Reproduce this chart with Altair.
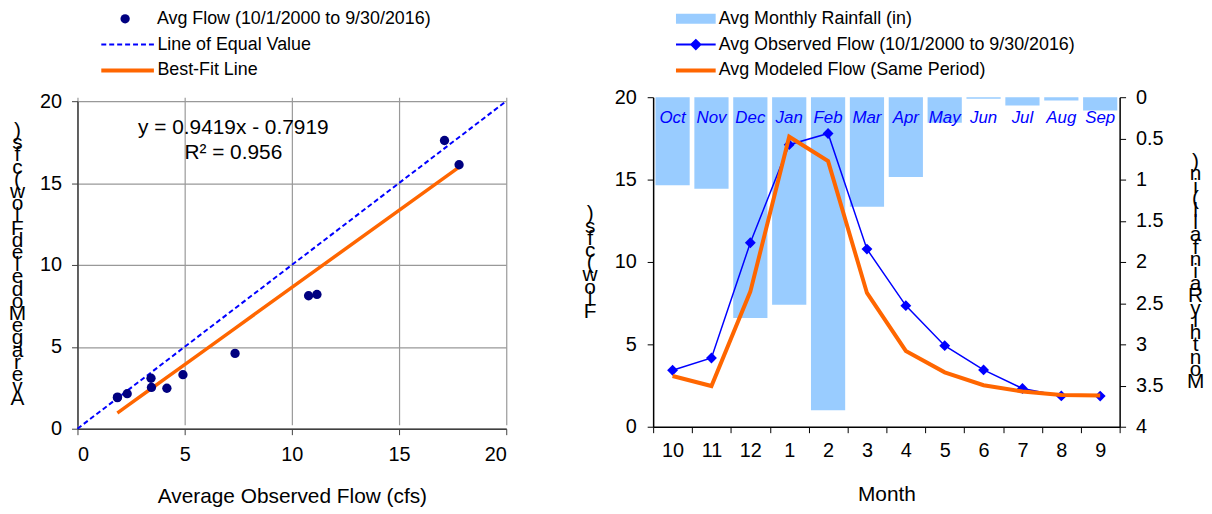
import altair as alt
import pandas as pd

# ---------------- data ----------------
months_num = ["10", "11", "12", "1", "2", "3", "4", "5", "6", "7", "8", "9"]
month_names = ["Oct", "Nov", "Dec", "Jan", "Feb", "Mar", "Apr", "May", "Jun", "Jul", "Aug", "Sep"]
rainfall_in = [1.07, 1.11, 2.68, 2.52, 3.80, 1.33, 0.97, 0.31, 0.02, 0.10, 0.04, 0.16]
observed_cfs = [3.43, 4.17, 11.17, 17.12, 17.80, 10.78, 7.35, 4.92, 3.45, 2.32, 1.87, 1.86]
modeled_cfs = [3.08, 2.47, 8.20, 17.60, 16.12, 8.12, 4.60, 3.30, 2.52, 2.14, 1.93, 1.90]
equal_values = [0, 20]
fit_slope = 0.9419
fit_intercept = -0.7919
fit_text = ["y = 0.9419x - 0.7919", "R² = 0.956"]
flow_ticks = [0, 5, 10, 15, 20]
rain_ticks = [0, 0.5, 1, 1.5, 2, 2.5, 3, 3.5, 4]

S_POINTS = "Avg Flow (10/1/2000 to 9/30/2016)"
S_EQUAL = "Line of Equal Value"
S_FIT = "Best-Fit Line"
S_RAIN = "Avg Monthly Rainfall (in)"
S_OBS = "Avg Observed Flow (10/1/2000 to 9/30/2016)"
S_MOD = "Avg Modeled Flow (Same Period)"

left_x_title = "Average Observed Flow (cfs)"
left_y_title = "Average Modeled Flow (cfs)"
right_x_title = "Month"
right_y_title = "Flow (cfs)"
right_y2_title = "Monthly Rainfall (in)"

FONT = "Liberation Sans"
STEP = 11          # wanted pixel step between stacked title characters
LINE_H = 12.3      # lineHeight value that renders as that step


def stacked(title):
    # characters stacked upright, read from bottom to top
    return list(reversed(title))


def stacked_top(title, center):
    # y of first line so that the stacked block is centred on `center`
    return center - (len(title) - 1) * STEP / 2


def legend(x, y, shape, size, offset, **kw):
    return alt.Legend(title=None, orient="none", legendX=x, legendY=y,
                      symbolType=shape, symbolSize=size, labelOffset=offset,
                      labelFont=FONT, labelFontSize=18, labelColor="black",
                      labelLimit=600, padding=0, **kw)


monthly = pd.DataFrame({
    "month": months_num, "name": month_names, "rain": rainfall_in,
    "obs": observed_cfs, "mod": modeled_cfs,
})

# ---------------- left: scatter ----------------
AX_L = dict(domainColor="#404040", tickColor="#404040", domainWidth=1.5,
            gridColor="#999999", gridWidth=1.2,
            labelFont=FONT, labelFontSize=20, labelColor="black",
            titleFont=FONT, titleFontSize=21, titleFontWeight="normal",
            titleColor="black", tickSize=6)

LH = 334  # left view height; plot area sits 4px below its top
x_scale = alt.Scale(domain=[0, 20], nice=False)
y_scale_left = alt.Scale(domain=[0, 20], nice=False, range=[LH, 4])
lx_axis = alt.Axis(values=flow_ticks, title=left_x_title, titleY=68,
                   titleBaseline="middle", labelPadding=10, **AX_L)
ly_axis = alt.Axis(values=flow_ticks, title=stacked(left_y_title), titleAngle=0,
                   titleX=-61, titleY=stacked_top(left_y_title, 171),
                   titleAlign="center", titleBaseline="middle",
                   titleLineHeight=LINE_H, labelPadding=10, **AX_L)

equal_df = pd.DataFrame({"obs": equal_values, "mod": equal_values})

equal_line = alt.Chart(equal_df).transform_calculate(
    series=f"'{S_EQUAL}'"
).mark_line(strokeWidth=2, strokeDash=[5, 3]).encode(
    x=alt.X("obs:Q", scale=x_scale, axis=lx_axis),
    y=alt.Y("mod:Q", scale=y_scale_left, axis=ly_axis),
    color=alt.Color("series:N", scale=alt.Scale(range=["#0000FF"]),
                    legend=legend(41.5, -62, "M-5.3,0H5.3", 100, 21,
                                  symbolStrokeWidth=2, symbolDash=[5, 3])),
)

fit_line = alt.Chart(monthly).transform_calculate(
    fit=f"{fit_slope} * datum.obs + ({fit_intercept})",
    series=f"'{S_FIT}'",
).mark_line(strokeWidth=3.5).encode(
    x=alt.X("obs:Q", scale=x_scale, axis=lx_axis),
    y=alt.Y("fit:Q", scale=y_scale_left, axis=ly_axis),
    color=alt.Color("series:N", scale=alt.Scale(range=["#FF6600"]),
                    legend=legend(41.5, -36, "M-5.3,0H5.3", 100, 21,
                                  symbolStrokeWidth=4)),
)

points = alt.Chart(monthly).transform_calculate(
    series=f"'{S_POINTS}'"
).mark_circle(size=88, opacity=1).encode(
    x=alt.X("obs:Q", scale=x_scale, axis=lx_axis),
    y=alt.Y("mod:Q", scale=y_scale_left, axis=ly_axis),
    color=alt.Color("series:N", scale=alt.Scale(range=["#000080"]),
                    legend=legend(39, -88, "circle", 88, 23)),
)

eq_text = alt.Chart(pd.DataFrame({"k": [0]})).mark_text(
    text=fit_text, font=FONT, fontSize=21, lineHeight=25,
    align="center", baseline="middle", color="black",
).encode(x=alt.value(157), y=alt.value(31))

left = alt.layer(equal_line, fit_line, points, eq_text).resolve_scale(
    color="independent"
).properties(width=432, height=LH)

# ---------------- right: monthly ----------------
AX_R = dict(domainColor="#000000", tickColor="#000000", domainWidth=1.5,
            gridColor="#999999", gridWidth=1.2,
            labelFont=FONT, labelFontSize=20, labelColor="black",
            titleFont=FONT, titleFontSize=21, titleFontWeight="normal",
            titleColor="black", tickSize=6)

flow_scale = alt.Scale(domain=[0, 20], nice=False)
x_month = alt.X("month:N", sort=months_num,
                scale=alt.Scale(paddingInner=0, paddingOuter=0),
                axis=alt.Axis(tickBand="extent", labelAngle=0, title=right_x_title,
                              titleY=68, titleBaseline="middle", labelPadding=8,
                              **AX_R))
r_flow_axis = alt.Axis(orient="left", values=flow_ticks, title=stacked(right_y_title),
                       titleAngle=0, titleX=-64, titleY=stacked_top(right_y_title, 167),
                       titleAlign="center", titleBaseline="middle",
                       titleLineHeight=LINE_H, labelPadding=11, **AX_R)
rain_axis = alt.Axis(orient="right", values=rain_ticks, format="~g", grid=False,
                     title=stacked(right_y2_title), titleAngle=0, titleX=76,
                     titleY=stacked_top(right_y2_title, 175), titleAlign="center",
                     titleBaseline="middle", titleLineHeight=LINE_H,
                     labelPadding=10, **AX_R)

bars = alt.Chart(monthly).transform_calculate(
    series=f"'{S_RAIN}'"
).mark_bar(width=alt.RelativeBandSize(0.88)).encode(
    x=x_month,
    y=alt.Y("rain:Q", scale=alt.Scale(domain=[0, 4], reverse=True, nice=False),
            axis=rain_axis),
    color=alt.Color("series:N", scale=alt.Scale(range=["#99CCFF"]),
                    legend=legend(34, -88, "M-4,-1H4V1H-4Z", 100, 14)),
)

labels = alt.Chart(monthly).mark_text(
    font=FONT, fontSize=17, fontStyle="italic", color="#0000FF", baseline="middle"
).encode(x=x_month, y=alt.value(21), text="name:N")

obs_line = alt.Chart(monthly).mark_line(color="#0000FF", strokeWidth=1.5).encode(
    x=x_month,
    y=alt.Y("obs:Q", scale=flow_scale, axis=r_flow_axis),
)

obs_pts = alt.Chart(monthly).transform_calculate(
    series=f"'{S_OBS}'"
).mark_point(shape="diamond", filled=True, size=120, opacity=1).encode(
    x=x_month,
    y=alt.Y("obs:Q", scale=flow_scale, axis=r_flow_axis),
    color=alt.Color("series:N", scale=alt.Scale(range=["#0000FF"]),
                    legend=legend(34, -62, "M-4,-0.2H4V0.2H-4ZM0,-1.2L1.2,0L0,1.2L-1.2,0Z",
                                  100, 14)),
)

mod_line = alt.Chart(monthly).transform_calculate(
    series=f"'{S_MOD}'"
).mark_line(strokeWidth=4).encode(
    x=x_month,
    y=alt.Y("mod:Q", scale=flow_scale, axis=r_flow_axis),
    color=alt.Color("series:N", scale=alt.Scale(range=["#FF6600"]),
                    legend=legend(34, -36, "M-4,0H4", 100, 14, symbolStrokeWidth=4)),
)

flow_layers = alt.layer(labels, obs_line, obs_pts, mod_line).resolve_scale(
    color="independent"
)

right = alt.layer(bars, flow_layers).resolve_scale(
    y="independent", color="independent"
).properties(width=470, height=332)

chart = alt.hconcat(left, right, spacing=72).properties(
    padding={"left": 0, "top": 0, "right": 0, "bottom": 0}
).configure_view(stroke=None)

chart.save("out.html", embed_options={"renderer": "svg", "actions": False})
